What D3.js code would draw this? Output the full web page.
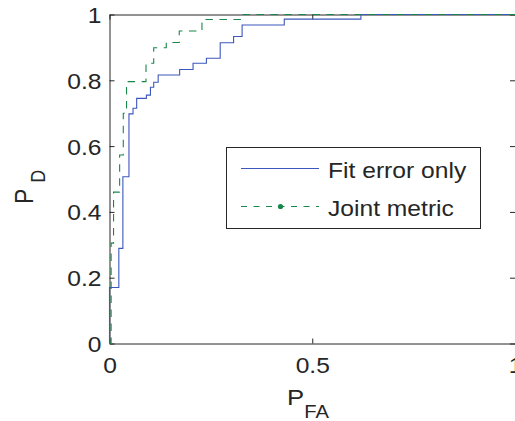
<!DOCTYPE html>
<html>
<head>
<meta charset="utf-8">
<script src="https://cdn.jsdelivr.net/npm/d3@7"></script>
<style>
  html, body { margin: 0; padding: 0; background: #fff; }
  svg { display: block; }
  text { font-family: "Liberation Sans", Arial, sans-serif; fill: #262626; }
</style>
</head>
<body>
<svg id="chart" width="515" height="421"></svg>
<script>
// ROC operating points (false-alarm rate, detection rate), stepped
const fitFA = [0, 0, 0.023, 0.033, 0.048, 0.058, 0.067, 0.091, 0.101, 0.109, 0.12, 0.173, 0.206, 0.239, 0.273, 0.306, 0.327, 0.431, 0.62, 1];
const fitPD = [0, 0.17, 0.289, 0.507, 0.698, 0.715, 0.745, 0.755, 0.779, 0.794, 0.816, 0.833, 0.852, 0.867, 0.914, 0.933, 0.968, 0.986, 1, 1];

const jointFA = [0, 0.004, 0.01, 0.025, 0.034, 0.042, 0.09, 0.109, 0.14, 0.172, 0.228, 0.327, 1];
const jointPD = [0, 0.305, 0.46, 0.573, 0.70, 0.796, 0.852, 0.899, 0.915, 0.95, 0.985, 1, 1];

const seriesNames = ["Fit error only", "Joint metric"];
const xTicks = [0, 0.5, 1];
const yTicks = [0, 0.2, 0.4, 0.6, 0.8, 1];

const blue = "#3d57bd";
const green = "#17884a";
const ink = "#262626";
const stretch = 1.12;   // wide lettering

const svg = d3.select("#chart");
const x = d3.scaleLinear().domain([0, 1]).range([109.5, 515]);
const y = d3.scaleLinear().domain([0, 1]).range([343.5, 14.5]);

function styleAxis(g) {
  g.select(".domain").attr("stroke", ink).attr("stroke-width", 1);
  g.selectAll(".tick line").attr("stroke", ink).attr("stroke-width", 1);
}

// frame with inward ticks on all four sides
const gL = svg.append("g").attr("transform", `translate(${x(0)},0)`)
  .call(d3.axisLeft(y).tickValues(yTicks).tickSizeInner(-5).tickSizeOuter(0)
    .tickPadding(8).tickFormat(d3.format("~g")));
const gB = svg.append("g").attr("transform", `translate(0,${y(0)})`)
  .call(d3.axisBottom(x).tickValues(xTicks).tickSizeInner(-5).tickSizeOuter(0)
    .tickPadding(14).tickFormat(d3.format("~g")));
const gT = svg.append("g").attr("transform", `translate(0,${y(1)})`)
  .call(d3.axisTop(x).tickValues(xTicks).tickSizeInner(-5).tickSizeOuter(0).tickFormat(""));
const gR = svg.append("g").attr("transform", `translate(${x(1)},0)`)
  .call(d3.axisRight(y).tickValues(yTicks).tickSizeInner(-5).tickSizeOuter(0).tickFormat(""));
[gL, gB, gT, gR].forEach(styleAxis);

gL.selectAll(".tick text")
  .attr("font-size", 22).attr("font-family", null).attr("fill", ink)
  .attr("x", -8 / stretch).attr("dy", "0.36em")
  .attr("transform", `scale(${stretch},1)`);
gB.selectAll(".tick text")
  .attr("font-size", 22).attr("font-family", null).attr("fill", ink)
  .attr("y", 14).attr("dy", "0.71em")
  .attr("transform", `scale(${stretch},1)`);

// curves
const line = d3.line().curve(d3.curveStepAfter).x(d => x(d[0])).y(d => y(d[1]));
const fitData = fitFA.map((v, i) => [v, fitPD[i]]);
const jointData = jointFA.map((v, i) => [v, jointPD[i]]);

svg.append("path").datum(fitData).attr("d", line)
  .attr("fill", "none").attr("stroke", blue).attr("stroke-width", 1.1);
svg.append("path").datum(jointData).attr("d", line)
  .attr("fill", "none").attr("stroke", green).attr("stroke-width", 1.1)
  .attr("stroke-dasharray", "7.5,6.5");

// axis titles
const yl = svg.append("text")
  .attr("transform", `translate(33,204) scale(${stretch},1) rotate(-90)`)
  .attr("font-size", 23);
yl.append("tspan").text("P");
yl.append("tspan").attr("font-size", 18).attr("dx", 6).attr("dy", 10.5).text("D");

const xl = svg.append("text")
  .attr("transform", `translate(287,405) scale(${stretch},1)`)
  .attr("font-size", 23);
xl.append("tspan").text("P");
xl.append("tspan").attr("font-size", 18).attr("dy", 13).text("FA");

// legend
const lg = svg.append("g");
lg.append("rect").attr("x", 226.5).attr("y", 147.5).attr("width", 254).attr("height", 81)
  .attr("fill", "#fff").attr("stroke", ink).attr("stroke-width", 1);
const rows = [
  { name: seriesNames[0], color: blue, dash: null, dot: false, cy: 168.5 },
  { name: seriesNames[1], color: green, dash: "6,6.5", dot: true, cy: 206.5 }
];
rows.forEach(r => {
  lg.append("line").attr("x1", 241).attr("x2", 319).attr("y1", r.cy).attr("y2", r.cy)
    .attr("stroke", r.color).attr("stroke-width", 1.1)
    .attr("stroke-dasharray", r.dash);
  if (r.dot) {
    lg.append("circle").attr("cx", 280.5).attr("cy", r.cy).attr("r", 2.6).attr("fill", r.color);
  }
  lg.append("text").attr("transform", `translate(328,${r.cy + 9}) scale(${stretch},1)`)
    .attr("font-size", 22).text(r.name);
});
</script>
</body>
</html>
